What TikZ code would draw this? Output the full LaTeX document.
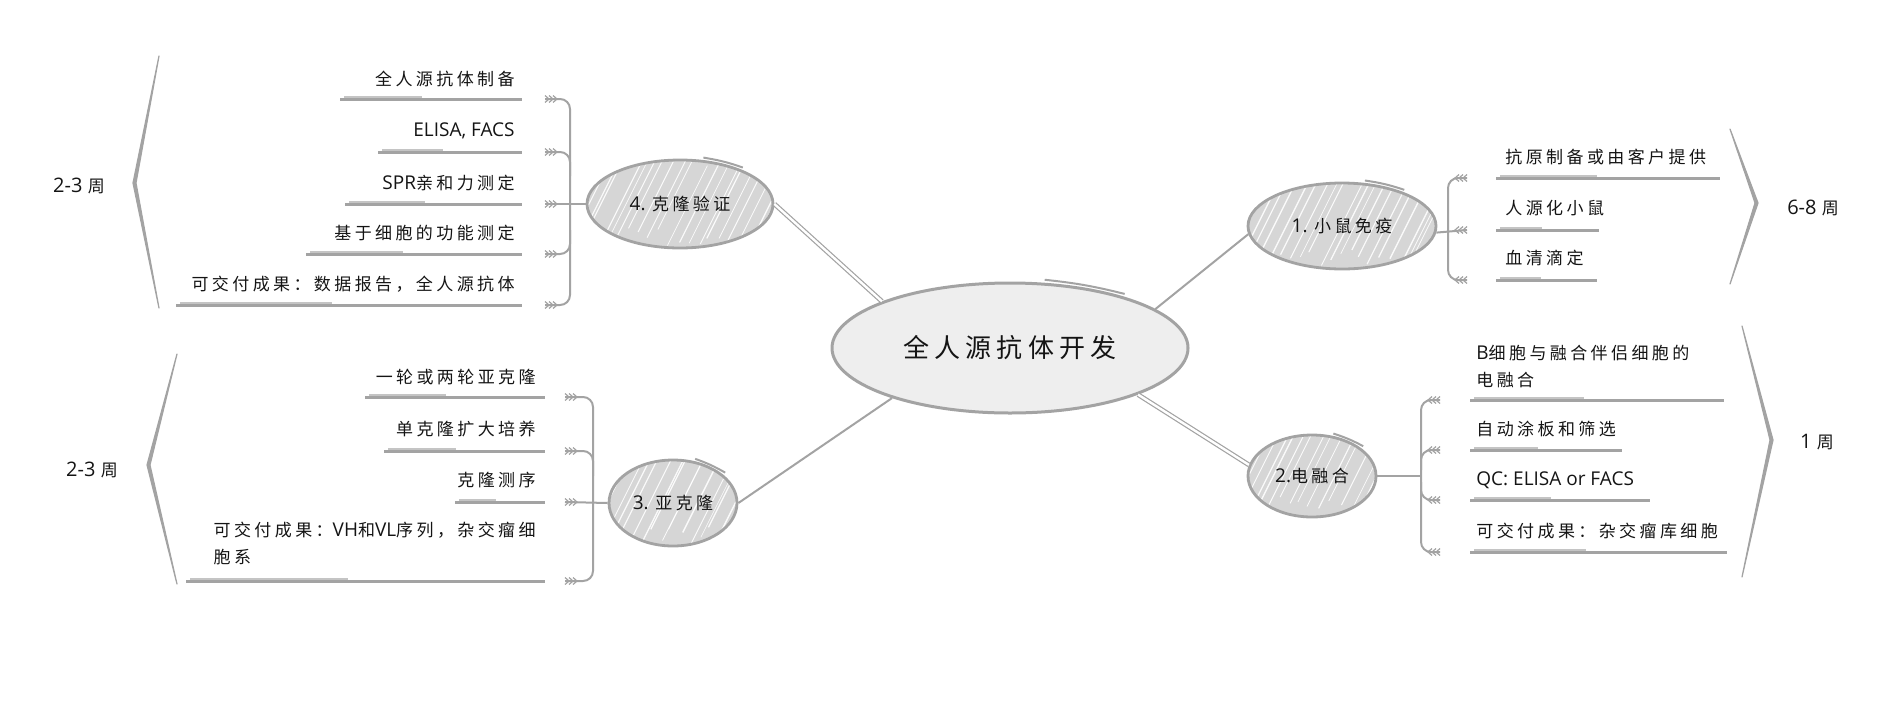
\documentclass[tikz,border=0pt]{standalone}
\usepackage{fontspec}
\setmainfont{Open Sans}
\newfontfamily\cjkf[LetterSpace=20]{Noto Sans CJK SC}
\newfontfamily\latf{Open Sans}
\usetikzlibrary{shapes.geometric,calc}
\definecolor{lc}{HTML}{A3A3A3}
\definecolor{lc2}{HTML}{C4C4C4}
\definecolor{nf}{HTML}{D6D6D6}
\definecolor{cf}{HTML}{EEEEEE}
\definecolor{tx}{HTML}{141414}
\newcommand\la[1]{{\latf\fontsize{9.5}{13.5}\selectfont #1}}
\newcommand\lab[1]{{\latf\fontsize{10}{13.5}\selectfont #1}}
\newcommand\myul[3]{\draw[uline] (#1,#3) -- (#2,#3); \draw[uline2] (#1+4,#3-2) -- (#1+0.45*#2-0.45*#1,#3-2);}
\newcommand\featherR[2]{\foreach \k in {0,4,8} \draw[feather] (#1+\k-4,#2-3.5) -- (#1+\k,#2) -- (#1+\k-4,#2+3.5);}
\newcommand\featherL[2]{\foreach \k in {0,4,8} \draw[feather] (#1-\k+4,#2-3.5) -- (#1-\k,#2) -- (#1-\k+4,#2+3.5);}
\tikzset{
  every node/.style={inner sep=0pt, text=tx},
  item/.style={font=\cjkf\fontsize{8.5}{13.5}\selectfont},
  stage/.style={ellipse, draw=lc, line width=1.4pt, fill=nf, font=\cjkf\fontsize{8.5}{13.5}\selectfont},
  hatch/.style={path picture={
    \pgfmathsetseed{#1}
    \foreach \i in {-36,-31,...,110}{
      \pgfmathsetmacro\dx{\i+3*rnd}
      \pgfmathsetmacro\lw{0.3+0.4*rnd}
      \pgfmathsetmacro\st{10*rnd}
      \draw[white, line width=\lw pt, opacity=0.9] ([xshift=\dx pt, yshift=\st pt]path picture bounding box.south west) -- ++(20pt,40pt);
    }}},
  ol/.style={draw=lc, line width=1pt},
  conn/.style={draw=lc, line width=1pt},
  conn2/.style={draw=lc, line width=0.6pt, double=white, double distance=1.2pt},
  br/.style={draw=lc, line width=1pt},
  feather/.style={draw=lc, line width=0.6pt},
  uline/.style={draw=lc, line width=1.5pt},
  uline2/.style={draw=lc2, line width=0.6pt},
  bigbr/.style={fill=lc, draw=lc, line width=0.6pt, line join=round},
}
\begin{document}
\begin{tikzpicture}[x=0.5pt, y=-0.5pt]
\useasboundingbox (0,0) rectangle (1877,707);

% ---------- central node ----------
\node[ellipse, draw=lc, line width=1.5pt, fill=cf, minimum width=178pt, minimum height=65pt,
      font=\cjkf\fontsize{13}{16}\selectfont] (c) at (1010,348) {全人源抗体开发};
\draw[ol] ([yshift=1.5pt]c.62) to[bend left=4] ([shift={(1.5pt,1pt)}]c.25);

% ---------- stage nodes ----------
\node[stage, hatch=3, minimum width=94pt, minimum height=43pt] (n1) at (1342,226) {\la{1. }小鼠免疫};
\node[stage, hatch=5, minimum width=64pt, minimum height=41pt] (n2) at (1312,476) {\la{2.}电融合};
\node[stage, hatch=7, minimum width=64pt, minimum height=43pt] (n3) at (673,503) {\la{3. }亚克隆};
\node[stage, hatch=9, minimum width=93pt, minimum height=44pt] (n4) at (680,204) {\la{4. }克隆验证};
\foreach \n in {n1,n2,n3,n4}
  \draw[ol] ([yshift=1.2pt]\n.62) to[bend left=5] ([shift={(1.2pt,0.8pt)}]\n.30);

% ---------- connectors centre -> stages ----------
\draw[conn]  (c.15)  -- (n1.185);
\draw[conn2] (c.-20) -- (n2.170);
\draw[conn]  (c.203) -- (n3.east);
\draw[conn2] (c.160) -- (n4.east);

% ---------- stage 4 items ----------
\node[item, anchor=east] (a1) at (515,79)  {全人源抗体制备};
\node[item, anchor=east] (a2) at (515,131) {\la{ELISA, FACS}};
\node[item, anchor=east] (a3) at (515,183) {\la{SPR}亲和力测定};
\node[item, anchor=east] (a4) at (515,233) {基于细胞的功能测定};
\node[item, anchor=east] (a5) at (515,284) {可交付成果：数据报告，全人源抗体};
\myul{340}{522}{99}
\myul{378}{522}{152}
\myul{345}{522}{204}
\myul{306}{522}{254}
\myul{176}{522}{305}
\draw[br, rounded corners=5pt] (545,99) -- (570,99) -- (570,305) -- (545,305);
\draw[br, rounded corners=5pt] (545,152) -- (570,152) -- (570,176);
\draw[br, rounded corners=5pt] (545,254) -- (570,254) -- (570,230);
\draw[br] (n4.west) -- (545,204);
\foreach \y in {99,152,204,254,305} {\featherR{549}{\y}}
\path[bigbr] (159,56) -- (133,183) -- (159,308) -- (136,183) -- cycle;
\node[item] (w4) at (79,186) {\lab{2-3 }周};

% ---------- stage 3 items ----------
\node[item, anchor=east] (b1) at (536,377) {一轮或两轮亚克隆};
\node[item, anchor=east] (b2) at (536,429) {单克隆扩大培养};
\node[item, anchor=east] (b3) at (536,480) {克隆测序};
\node[item, anchor=east, align=left] (b4) at (536,543) {可交付成果：\la{VH}和\la{VL}序列，杂交瘤细\\胞系};
\myul{365}{545}{397}
\myul{384}{545}{451}
\myul{455}{545}{502}
\myul{186}{545}{581}
\draw[br, rounded corners=5pt] (565,397) -- (593,397) -- (593,581) -- (565,581);
\draw[br, rounded corners=5pt] (565,451) -- (593,451) -- (593,476);
\draw[br] (n3.west) -- (565,502);
\foreach \y in {397,451,502,581} {\featherR{569}{\y}}
\path[bigbr] (177,354) -- (147,465) -- (177,584) -- (150,465) -- cycle;
\node[item] (w3) at (92,470) {\lab{2-3 }周};

% ---------- stage 1 items ----------
\node[item, anchor=west] (d1) at (1505,157) {抗原制备或由客户提供};
\node[item, anchor=west] (d2) at (1505,208) {人源化小鼠};
\node[item, anchor=west] (d3) at (1505,258) {血清滴定};
\myul{1496}{1720}{178}
\myul{1496}{1599}{230}
\myul{1496}{1597}{280}
\draw[br, rounded corners=5pt] (1467,178) -- (1448,178) -- (1448,280) -- (1467,280);
\draw[br] (n1.-4) -- (1467,230);
\foreach \y in {178,230,280} {\featherL{1463}{\y}}
\path[bigbr] (1730,129) -- (1758,203) -- (1730,284) -- (1755,203) -- cycle;
\node[item] (w1) at (1813,208) {\lab{6-8 }周};

% ---------- stage 2 items ----------
\node[item, anchor=west, align=left] (e1) at (1476,366) {\la{B}细胞与融合伴侣细胞的\\电融合};
\node[item, anchor=west] (e2) at (1476,429) {自动涂板和筛选};
\node[item, anchor=west] (e3) at (1476,480) {\la{QC: ELISA or FACS}};
\node[item, anchor=west] (e4) at (1476,531) {可交付成果：杂交瘤库细胞};
\myul{1470}{1724}{400}
\myul{1470}{1622}{450}
\myul{1470}{1650}{500}
\myul{1470}{1727}{552}
\draw[br, rounded corners=5pt] (1440,400) -- (1421,400) -- (1421,552) -- (1440,552);
\draw[br, rounded corners=5pt] (1440,450) -- (1421,450) -- (1421,470);
\draw[br, rounded corners=5pt] (1440,500) -- (1421,500) -- (1421,482);
\draw[br] (n2.east) -- (1421,476);
\foreach \y in {400,450,500,552} {\featherL{1436}{\y}}
\path[bigbr] (1742,326) -- (1773,440) -- (1742,577) -- (1770,440) -- cycle;
\node[item] (w2) at (1817,442) {\lab{1 }周};
\end{tikzpicture}
\end{document}
